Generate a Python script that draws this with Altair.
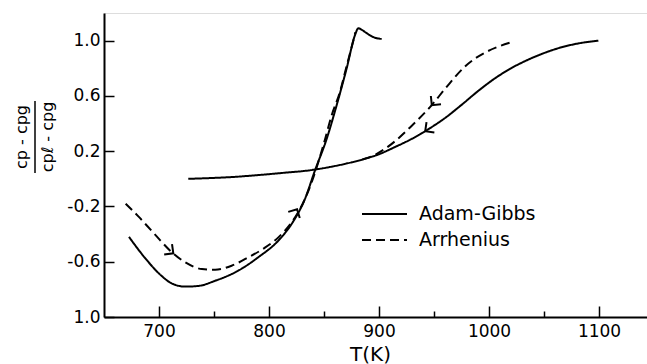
import altair as alt
import pandas as pd

# Reduced heat capacity (cp - cpg)/(cpl - cpg) versus temperature T (K)

# Adam-Gibbs model, heating scan
ag_heat_T = [672.7, 687, 702, 711.5, 723.6, 736, 751, 772, 790, 808.5, 820.6,
             832.7, 841.8, 852.5, 861.5, 870.6, 878.2, 881.2, 884, 888.8, 895, 902.4]
ag_heat_c = [-0.42, -0.57, -0.70, -0.757, -0.78, -0.775, -0.738, -0.665, -0.569, -0.447, -0.326,
             -0.145, 0.061, 0.291, 0.533, 0.80, 1.041, 1.09, 1.08, 1.054, 1.025, 1.012]

# Adam-Gibbs model, cooling scan
ag_cool_T = [726.6, 745, 764.5, 790, 810, 840, 855, 870, 885, 900, 915, 930, 945,
             960, 975, 990, 1005, 1020, 1035, 1050, 1065, 1080, 1099.4]
ag_cool_c = [0.0, 0.005, 0.012, 0.027, 0.041, 0.065, 0.085, 0.11, 0.14, 0.178, 0.232, 0.29, 0.36,
             0.44, 0.535, 0.635, 0.725, 0.80, 0.86, 0.91, 0.95, 0.978, 1.0]

# Arrhenius model, heating scan
ar_heat_T = [669.7, 681, 696, 711.5, 724, 739, 751, 766, 781, 796, 809,
             821, 833, 842, 850, 857, 864.5, 871, 876, 878.5]
ar_heat_c = [-0.18, -0.27, -0.40, -0.53, -0.605, -0.653, -0.658, -0.629, -0.569, -0.50, -0.42,
             -0.31, -0.14, 0.05, 0.26, 0.46, 0.63, 0.83, 0.98, 1.06]

# Arrhenius model, cooling scan
ar_cool_T = [885, 896, 905, 913, 928.2, 947.9, 961.5, 979.7, 997.9, 1008, 1019]
ar_cool_c = [0.14, 0.172, 0.215, 0.262, 0.372, 0.533, 0.666, 0.824, 0.92, 0.955, 0.985]

# Scan-direction arrowheads: position and heading (degrees, clockwise)
arrow_T = [713, 825.5, 942, 948]
arrow_c = [-0.539, -0.22, 0.345, 0.533]
arrow_heading = [37, 298, 143, 129]

models = ["Adam-Gibbs", "Arrhenius"]
x_ticks = [700, 750, 800, 850, 900, 950, 1000, 1050, 1100]
y_ticks = [-1.0, -0.6, -0.2, 0.2, 0.6, 1.0]
y_title = ["cp - cpg", "cp\u2113 - cpg"]

W, H = 543, 304
T_DOMAIN = [650, 1143.6]
C_DOMAIN = [-1.0, 1.2]
FONT = "DejaVu Sans"


def branch(T, c, model, name):
    return pd.DataFrame({"T": T, "c": c, "model": model, "branch": name})


curves = pd.concat([
    branch(ag_heat_T, ag_heat_c, models[0], "ag_heat"),
    branch(ag_cool_T, ag_cool_c, models[0], "ag_cool"),
    branch(ar_heat_T, ar_heat_c, models[1], "ar_heat"),
    branch(ar_cool_T, ar_cool_c, models[1], "ar_cool"),
], ignore_index=True)

x_scale = alt.Scale(domain=T_DOMAIN, nice=False, zero=False)
y_scale = alt.Scale(domain=C_DOMAIN, nice=False, zero=False)

# only the hundreds carry a label; the half-way ticks are shorter (dashed down to 6 px)
x_label_expr = "datum.value % 100 == 0 ? format(datum.value, 'd') : ''"
x_tick_dash = {"condition": {"test": "datum.value % 100 != 0", "value": [6, 40]}, "value": [1, 0]}
y_label_expr = ("datum.value < -0.99 ? '1.0' : (datum.value < 0 ? '-' + format(-datum.value, '.1f')"
                " : format(datum.value, '.1f'))")

# ticks point into the plot (negative tick length given as an expression);
# label padding is widened by the same amount to keep labels outside
lines = alt.Chart(curves).mark_line(
    color="black", strokeWidth=2, interpolate="monotone", strokeCap="butt"
).encode(
    x=alt.X("T:Q", scale=x_scale, axis=alt.Axis(
        values=x_ticks, labelExpr=x_label_expr, ticks=True, tickSize={"expr": "-11"},
        tickWidth=1.5, tickColor="black", tickDash=x_tick_dash,
        domainColor="black", domainWidth=2,
        labelFont=FONT, labelFontSize=17, labelColor="black", labelPadding=17,
        grid=False, title="T(K)", titleFont=FONT, titleFontSize=20,
        titleFontWeight="normal", titleColor="black", titleX=266, titleY=43,
        titleBaseline="alphabetic", titleAlign="center")),
    y=alt.Y("c:Q", scale=y_scale, axis=alt.Axis(
        values=y_ticks, ticks=True, tickSize={"expr": "-10"}, tickWidth=1.5, tickColor="black",
        domainColor="black", domainWidth=2,
        labelFont=FONT, labelFontSize=17, labelColor="black", labelPadding=14,
        labelExpr=y_label_expr, grid=False, title=None)),
    strokeDash=alt.StrokeDash("model:N", scale=alt.Scale(domain=models, range=[[1, 0], [9, 5]]),
                              legend=alt.Legend(
                                  title=None, orient="none", legendX=270.5, legendY=191,
                                  symbolType="M-2.5,0H2.5", symbolSize=324, symbolStrokeWidth=2,
                                  symbolStrokeColor="black", labelFont=FONT, labelFontSize=19,
                                  labelColor="black", labelOffset=24.5, rowPadding=6, padding=0)),
    detail="branch:N",
)

arrows = alt.Chart(pd.DataFrame({"T": arrow_T, "c": arrow_c, "heading": arrow_heading})).mark_point(
    shape="M-1,-1L0,0L-1,1", size=170, filled=False, color="black", strokeWidth=2, opacity=1
).encode(
    x=alt.X("T:Q", scale=x_scale),
    y=alt.Y("c:Q", scale=y_scale),
    angle=alt.Angle("heading:Q", scale=None),
)

# y-axis title drawn as a stacked fraction
numer = alt.Chart(pd.DataFrame({"t": [y_title[0]]})).mark_text(
    font=FONT, fontSize=16, angle=270, align="center", baseline="middle", color="black"
).encode(text="t:N", x=alt.value(-82), y=alt.value(124))
denom = alt.Chart(pd.DataFrame({"t": [y_title[1]]})).mark_text(
    font=FONT, fontSize=16, angle=270, align="center", baseline="middle", color="black"
).encode(text="t:N", x=alt.value(-56), y=alt.value(124))
bar = alt.Chart(pd.DataFrame({"t": [y_title[0]]})).mark_rule(color="black", strokeWidth=1.5).encode(
    x=alt.value(-69), y=alt.value(88), y2=alt.value(160))

chart = alt.layer(lines, arrows, numer, denom, bar).properties(
    width=W, height=H,
    padding={"left": 104, "top": 13, "right": 0, "bottom": 47},
    autosize=alt.AutoSizeParams(type="none"),
).configure_view(stroke=None).configure(background="white")

chart.save("out.html", embed_options={"renderer": "svg", "actions": False})
